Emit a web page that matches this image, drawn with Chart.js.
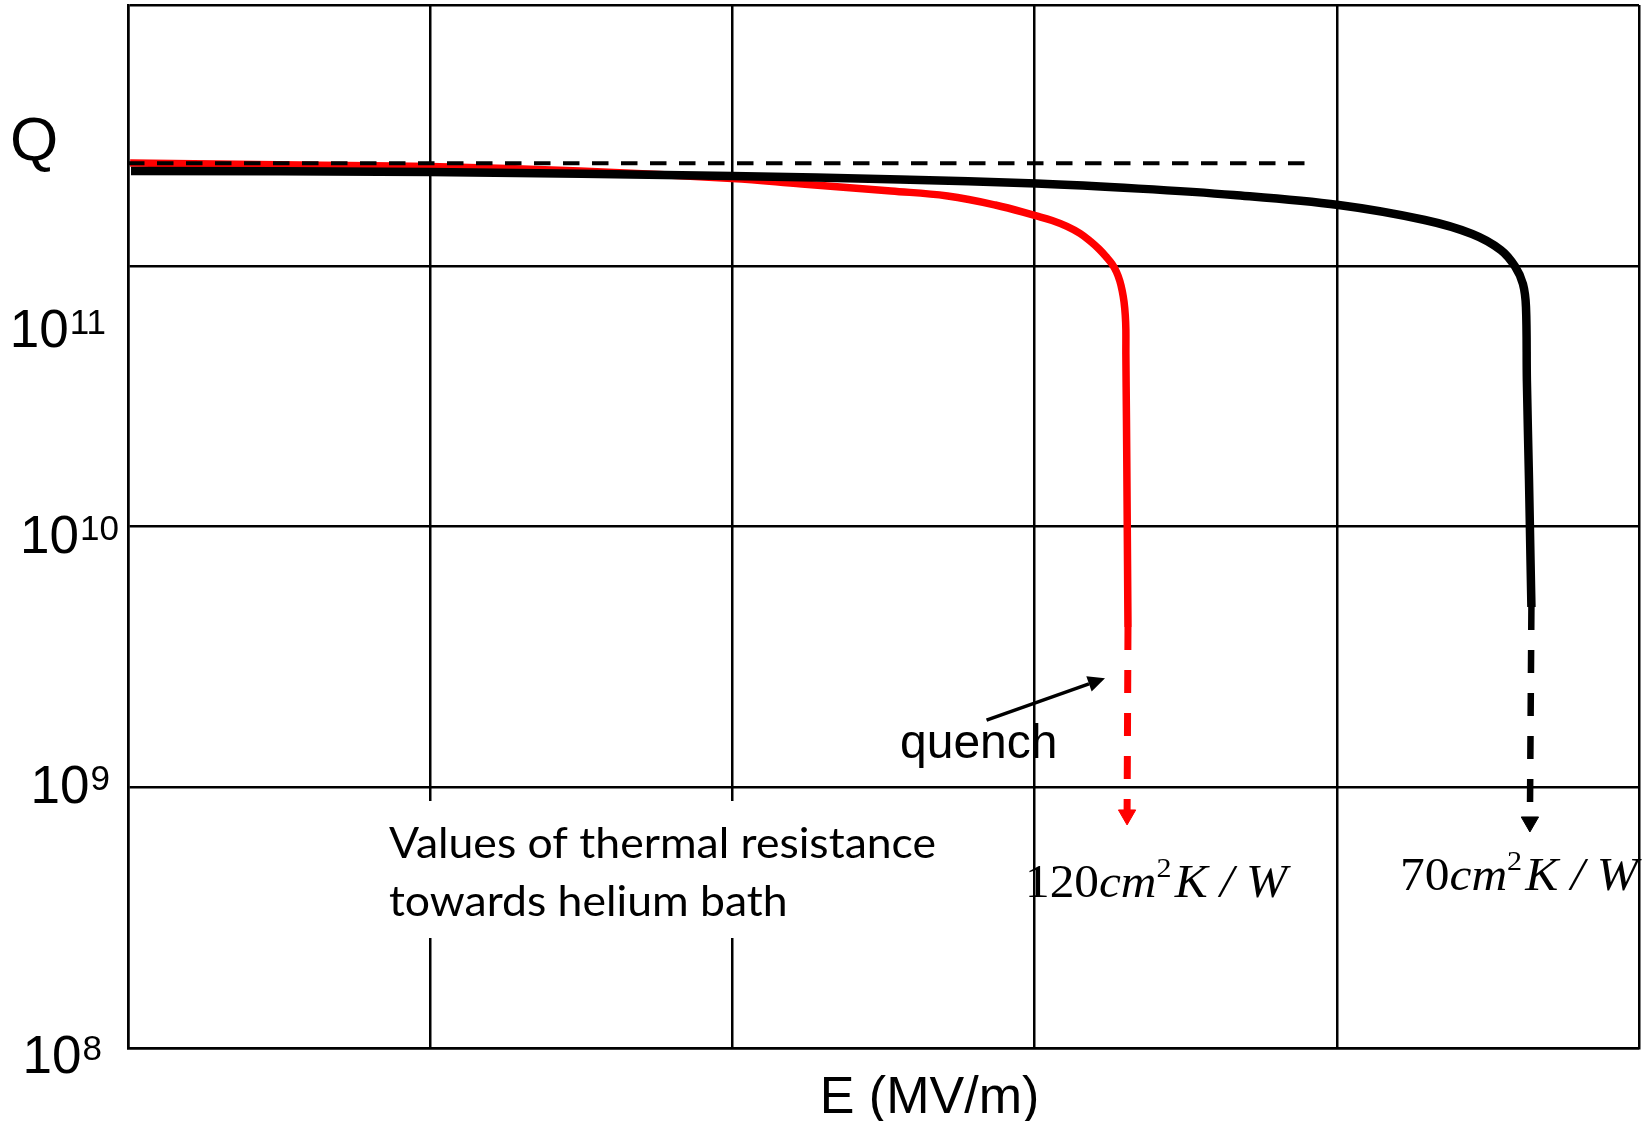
<!DOCTYPE html>
<html>
<head>
<meta charset="utf-8">
<script src="https://cdn.jsdelivr.net/npm/chart.js@4.4.1/dist/chart.umd.min.js"></script>
<style>
  html, body { margin: 0; padding: 0; background: #fff; }
  #wrap { width: 1645px; height: 1121px; }
</style>
</head>
<body>
<div id="wrap"><canvas id="qChart" width="1645" height="1121"></canvas></div>
<script>
// E (MV/m) on a linear axis, Q on a log axis
const eTicks = [0, 10, 20, 30, 40, 50];
const qTicks = [1e8, 1e9, 1e10, 1e11, 1e12];
const qTickLabels = [['10', '8'], ['10', '9'], ['10', '10'], ['10', '11']];

// 120 cm2K/W (red)
const redE = [0.07, 5.69, 9.99, 14.96, 19.99, 22.30, 25.25, 27.12, 28.70, 30.06, 30.58, 31.07, 31.50, 31.86, 32.13, 32.36, 32.56, 32.71, 32.82, 32.90, 32.96, 33.00, 33.02, 33.02, 33.04, 33.06, 33.09];
const redQ = [2.478e11, 2.434e11, 2.402e11, 2.309e11, 2.161e11, 2.058e11, 1.935e11, 1.852e11, 1.710e11, 1.552e11, 1.491e11, 1.415e11, 1.330e11, 1.237e11, 1.159e11, 1.085e11, 1.016e11, 9.462e10, 8.740e10, 8.003e10, 7.261e10, 6.474e10, 5.669e10, 4.587e10, 2.562e10, 1.264e10, 4.118e9];

// 70 cm2K/W (black)
const blackE = [0.10, 9.99, 19.99, 25.55, 30.06, 33.44, 36.59, 40.06, 42.91, 44.48, 45.43, 45.90, 46.16, 46.26, 46.29, 46.36, 46.41, 46.44];
const blackQ = [2.309e11, 2.288e11, 2.209e11, 2.142e11, 2.067e11, 1.976e11, 1.868e11, 1.710e11, 1.498e11, 1.324e11, 1.149e11, 9.934e10, 8.511e10, 6.947e10, 3.614e10, 1.508e10, 7.439e9, 4.913e9];

// ideal Q (dashed)
const limitE = [0, 39.0];
const limitQ = [2.47e11, 2.47e11];

// drops after quench
const redDropE = [33.09, 33.06];
const redDropQ = [4.118e9, 7.83e8];
const blackDropE = [46.44, 46.39];
const blackDropQ = [4.913e9, 7.36e8];

// "quench" pointer
const quenchE = [28.41, 32.33];
const quenchQ = [1.81e9, 2.62e9];

const pts = (xs, ys) => xs.map((x, i) => ({ x: x, y: ys[i] }));
const lastOnly = (r) => (c) => (c.dataIndex === 1 ? r : 0);

// label placement (pixels, relative to grid lines)
const labelRight = [101, 109, 118, 105];
const labelShift = [6, -3, 7, 62];

const serif = '"Liberation Serif", "Times New Roman", serif';

function drawEq(ctx, num, xLeft, xRight, base) {
  const parts = [
    { t: num, f: '46px ' + serif, dy: 0, gap: 0 },
    { t: 'cm', f: 'italic 46px ' + serif, dy: 0, gap: 0 },
    { t: '2', f: '28px ' + serif, dy: -20, gap: 3 },
    { t: 'K', f: 'italic 46px ' + serif, dy: 0, gap: 0 },
    { t: ' / ', f: 'italic 46px ' + serif, dy: 0, gap: 0 },
    { t: 'W', f: 'italic 46px ' + serif, dy: 0, gap: 0 },
  ];
  let total = 0;
  parts.forEach((p) => {
    ctx.font = p.f;
    p.w = ctx.measureText(p.t).width + p.gap;
    total += p.w;
  });
  const s = (xRight - xLeft) / total;
  ctx.save();
  ctx.translate(xLeft, base);
  ctx.scale(s, 1);
  let cx = 0;
  parts.forEach((p) => {
    ctx.font = p.f;
    ctx.fillText(p.t, cx, p.dy);
    cx += p.w;
  });
  ctx.restore();
}

const overlay = {
  id: 'overlay',
  afterDraw(chart) {
    const ctx = chart.ctx;
    const xs = chart.scales.x;
    const ys = chart.scales.y;
    ctx.save();
    ctx.fillStyle = '#000';
    ctx.textAlign = 'left';
    ctx.textBaseline = 'alphabetic';

    // y tick labels with superscripts
    qTickLabels.forEach((lab, i) => {
      const yc = ys.getPixelForValue(qTicks[i]) + labelShift[i];
      ctx.font = '53px "Liberation Sans", Arial, sans-serif';
      const wBase = ctx.measureText(lab[0]).width;
      ctx.font = '35px "Liberation Sans", Arial, sans-serif';
      const wSup = ctx.measureText(lab[1]).width;
      const x0 = labelRight[i] - wBase - wSup;
      ctx.font = '53px "Liberation Sans", Arial, sans-serif';
      ctx.fillText(lab[0], x0, yc + 19);
      ctx.font = '35px "Liberation Sans", Arial, sans-serif';
      ctx.fillText(lab[1], x0 + wBase + 1, yc + 6);
    });

    // axis titles
    ctx.font = '62px "Liberation Sans", Arial, sans-serif';
    ctx.fillText('Q', 10, 160);
    ctx.font = '52px "Liberation Sans", Arial, sans-serif';
    ctx.textAlign = 'center';
    ctx.fillText('E (MV/m)', 929.5, 1113);
    ctx.textAlign = 'left';

    // text box
    ctx.fillStyle = '#fff';
    ctx.fillRect(380, 801, 567, 137);
    ctx.fillStyle = '#000';
    ctx.font = '43px Lato, "Open Sans", sans-serif';
    const l1 = 'Values of thermal resistance';
    const l2 = 'towards helium bath';
    const s = 547 / ctx.measureText(l1).width;
    ctx.save();
    ctx.translate(389, 0);
    ctx.scale(s, 1);
    ctx.fillText(l1, 0, 858);
    ctx.fillText(l2, 0, 916);
    ctx.restore();

    // quench label and pointer
    ctx.font = '48px "Liberation Sans", Arial, sans-serif';
    ctx.fillText('quench', 900, 758);
    const ax = xs.getPixelForValue(quenchE[0]);
    const ay = ys.getPixelForValue(quenchQ[0]);
    const bx = xs.getPixelForValue(quenchE[1]);
    const by = ys.getPixelForValue(quenchQ[1]);
    const ang = Math.atan2(by - ay, bx - ax);
    const hl = 17;
    const hw = 8;
    const hx = bx - hl * Math.cos(ang);
    const hy = by - hl * Math.sin(ang);
    ctx.strokeStyle = '#000';
    ctx.lineWidth = 3.5;
    ctx.beginPath();
    ctx.moveTo(ax, ay);
    ctx.lineTo(hx, hy);
    ctx.stroke();
    ctx.beginPath();
    ctx.moveTo(bx, by);
    ctx.lineTo(hx + hw * Math.sin(ang), hy - hw * Math.cos(ang));
    ctx.lineTo(hx - hw * Math.sin(ang), hy + hw * Math.cos(ang));
    ctx.closePath();
    ctx.fill();

    // thermal resistance values
    drawEq(ctx, '120', 1025, 1287, 897);
    drawEq(ctx, '70', 1400, 1638, 890);

    ctx.restore();
  },
};

const gridStyle = { color: '#000', lineWidth: 2.5, drawTicks: false };
const borderStyle = { display: true, color: '#000', width: 2.5 };

const ctx = document.getElementById('qChart').getContext('2d');
const qChart = new Chart(ctx, {
  type: 'line',
  data: {
    datasets: [
      {
        label: 'ideal',
        data: pts(limitE, limitQ),
        borderColor: '#000',
        borderWidth: 4,
        borderDash: [16.5, 12.5],
        pointRadius: 0,
        order: 0,
      },
      {
        label: '70 cm2K/W',
        data: pts(blackE, blackQ),
        borderColor: '#000',
        borderWidth: 8.5,
        tension: 0.35,
        pointRadius: 0,
        order: 1,
      },
      {
        label: '70 cm2K/W drop',
        data: pts(blackDropE, blackDropQ),
        borderColor: '#000',
        backgroundColor: '#000',
        borderWidth: 6.5,
        borderDash: [23, 20],
        pointStyle: 'triangle',
        pointRotation: 180,
        pointRadius: lastOnly(10),
        pointBorderWidth: 1,
        order: 1,
      },
      {
        label: '120 cm2K/W',
        data: pts(redE, redQ),
        borderColor: '#ff0000',
        borderWidth: 7.5,
        tension: 0.4,
        pointRadius: 0,
        order: 2,
      },
      {
        label: '120 cm2K/W drop',
        data: pts(redDropE, redDropQ),
        borderColor: '#ff0000',
        backgroundColor: '#ff0000',
        borderWidth: 7,
        borderDash: [23, 20],
        pointStyle: 'triangle',
        pointRotation: 180,
        pointRadius: lastOnly(10),
        pointBorderWidth: 1,
        order: 2,
      },
    ],
  },
  options: {
    responsive: false,
    animation: false,
    layout: { autoPadding: false, padding: { left: 128, right: 6, top: 5, bottom: 73 } },
    plugins: {
      legend: { display: false },
      tooltip: { enabled: false },
    },
    elements: {
      line: { borderCapStyle: 'butt', borderJoinStyle: 'round' },
    },
    scales: {
      x: {
        type: 'linear',
        min: 0,
        max: 50,
        afterBuildTicks: (s) => { s.ticks = eTicks.map((v) => ({ value: v })); },
        ticks: { display: false },
        grid: gridStyle,
        border: borderStyle,
      },
      y: {
        type: 'logarithmic',
        min: 1e8,
        max: 1e12,
        afterBuildTicks: (s) => { s.ticks = qTicks.map((v) => ({ value: v })); },
        ticks: { display: false },
        grid: gridStyle,
        border: borderStyle,
      },
    },
  },
  plugins: [overlay],
});
</script>
</body>
</html>
